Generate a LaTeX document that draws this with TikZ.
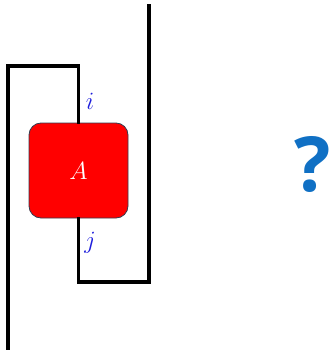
\documentclass[tikz,border=0pt]{standalone}
\usepackage{fontspec}
\newfontfamily\preguntafont{Open Sans}
\usepackage{xcolor}
\usepackage{tikz}
\usetikzlibrary{calc}
\definecolor{RojoTensor}{RGB}{255,0,0}
\definecolor{BordeTensor}{RGB}{50,60,80}
\definecolor{AzulIndice}{RGB}{30,30,220}
\definecolor{AzulPregunta}{RGB}{16,112,196}

\begin{document}
\begin{tikzpicture}[x=1pt,y=-1pt,line width=3.5pt]
  \useasboundingbox (0,0) rectangle (334,350);
  \node[fill=RojoTensor,draw=BordeTensor,line width=0.8pt,rounded corners=12pt,
        minimum width=99pt,minimum height=95pt,inner sep=0pt,
        text=white,font=\fontsize{30}{30}\selectfont] (A) at (78.5,170.5) {$A$};
  \coordinate (arribaIzq) at (8,66);
  \coordinate (abajoIzq) at (8,348);
  \coordinate (abajoDer) at (149,282);
  \coordinate (arribaDer) at (149,6);
  \draw[line cap=rect] (abajoIzq)--(arribaIzq)--(arribaIzq-|A.north)--(A.north);
  \draw[line cap=rect] (A.south)--(abajoDer-|A.south)--(abajoDer)--(arribaDer);
  \node[AzulIndice,font=\fontsize{28}{28}\selectfont] (i) at (90,101) {$i$};
  \node[AzulIndice,font=\fontsize{28}{28}\selectfont] (j) at (90,243) {$j$};
  \node[AzulPregunta,font=\preguntafont\bfseries\fontsize{76}{76}\selectfont] (q) at (313,164) {?};
\end{tikzpicture}
\end{document}
